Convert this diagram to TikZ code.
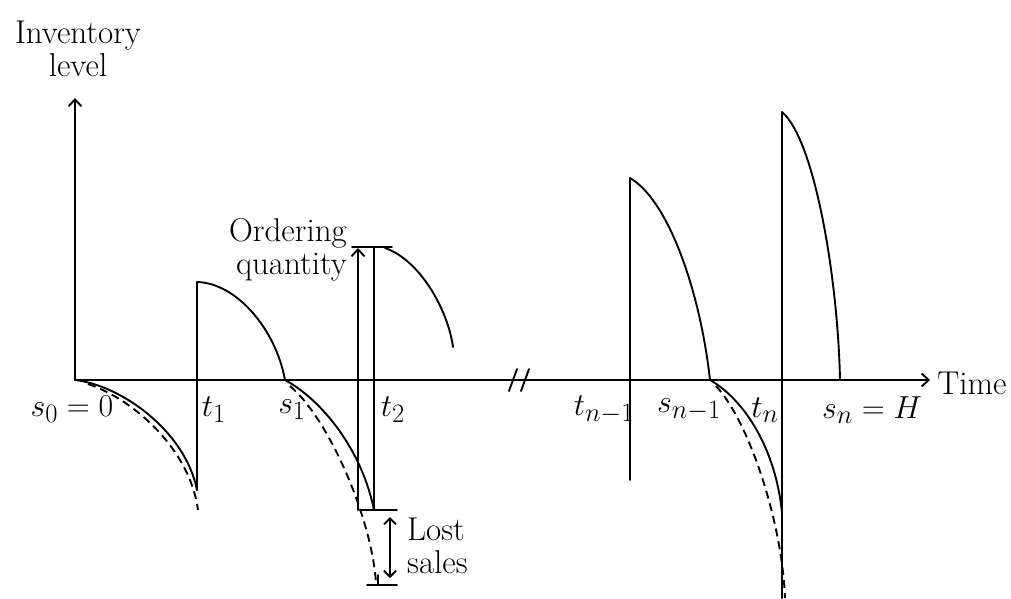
\documentclass[tikz,border=0pt]{standalone}
\usepackage{graphicx}
\usetikzlibrary{arrows.meta}
\newcommand{\mymath}[1]{\scalebox{1.28}{\fontsize{24.88}{28}\selectfont$#1$}}
\begin{document}
\begin{tikzpicture}[x=1pt,y=-1pt,
  ln/.style={line width=1.9pt,line cap=round},
  dsh/.style={line width=1.9pt,dash pattern=on 8pt off 5pt},
  ar/.style={-{Straight Barb[length=7pt,width=13pt,line width=1.9pt]}},
  lbl/.style={font=\fontsize{33}{36}\selectfont,inner sep=0pt},
  mlbl/.style={inner sep=0pt}]
\useasboundingbox (0,0) rectangle (1011,598);
% coordinates
\coordinate (O) at (75,380);
\coordinate (Ytop) at (75,98);
\coordinate (Xend) at (930,380);
\coordinate (t1b) at (197,490);
\coordinate (t1t) at (197,282);
\coordinate (s1) at (285,380);
\coordinate (t2b) at (374,510);
\coordinate (t2t) at (374,247);
\coordinate (q2s) at (385,248);
\coordinate (q2e) at (453,347);
\coordinate (tn1b) at (630,480);
\coordinate (tn1t) at (630,178);
\coordinate (sn1) at (710,380);
\coordinate (tnb) at (782,598);
\coordinate (tnm) at (782,513);
\coordinate (tnt) at (782,112);
\coordinate (sn) at (840,380);
% axes
\draw[ln,ar] (O) -- (Ytop);
\draw[ln,ar] (O) -- (Xend);
\draw[ln] (509,391) -- (517,369);
\draw[ln] (521,391) -- (529,369);
% cycle 1
\draw[ln] (O) .. controls (120,385) and (185,430) .. (t1b);
\draw[dsh] (88,384) .. controls (135,400) and (190,450) .. (198,510);
\draw[ln] (t1b) -- (t1t);
\draw[ln] (t1t) .. controls (237,283) and (276,330) .. (s1);
% cycle 2
\draw[ln] (s1) .. controls (322,400) and (362,450) .. (t2b);
\draw[dsh] (290,386) .. controls (330,420) and (372,520) .. (376,583);
\draw[ln] (t2b) -- (t2t);
\draw[ln] (q2s) .. controls (420,260) and (448,310) .. (q2e);
\coordinate (oqb) at (358,510);
\coordinate (oqt) at (358,248);
\draw[ln,ar] (oqb) -- (oqt);
\draw[ln] (352,247) -- (392,247);
\draw[ln] (360,510) -- (397,510);
\draw[ln] (367,585) -- (397,585);
\draw[ln] (378,585) -- (378,575);
\coordinate (lsa) at (390,517);
\coordinate (lsb) at (390,578);
\draw[ln,{Straight Barb[length=6pt,width=12pt,line width=1.9pt]}-{Straight Barb[length=6pt,width=12pt,line width=1.9pt]}] (lsa) -- (lsb);
% cycle n-1
\draw[ln] (tn1b) -- (tn1t);
\draw[ln] (tn1t) .. controls (668,200) and (700,290) .. (sn1);
\draw[ln] (sn1) .. controls (745,400) and (776,450) .. (tnm);
\draw[dsh] (716,386) .. controls (748,420) and (782,520) .. (785,598);
\draw[ln] (tnb) -- (tnt);
\draw[ln] (tnt) .. controls (815,140) and (838,280) .. (sn);
% labels
\node[lbl,align=center] (yl) at (78,49) {Inventory\\[-3pt]level};
\node[lbl] (xl) at (972,383) {Time};
\node[lbl,align=right,anchor=east] (oq) at (347,250) {Ordering\\[-3pt]quantity};
\node[lbl,align=left,anchor=west] (ls) at (407,546) {Lost\\[-3pt]sales};
\node[mlbl] (Ls0) at (72,409) {\mymath{s_0=0}};
\node[mlbl] (Lt1) at (214,410) {\mymath{t_1}};
\node[mlbl] (Ls1) at (292,410) {\mymath{s_1}};
\node[mlbl] (Lt2) at (393,410) {\mymath{t_2}};
\node[mlbl] (Ltn1) at (604,410) {\mymath{t_{n-1}}};
\node[mlbl] (Lsn1) at (689,410) {\mymath{s_{n-1}}};
\node[mlbl] (Ltn) at (765,410) {\mymath{t_n}};
\node[mlbl] (Lsn) at (872,410) {\mymath{s_n=H}};
\end{tikzpicture}
\end{document}
